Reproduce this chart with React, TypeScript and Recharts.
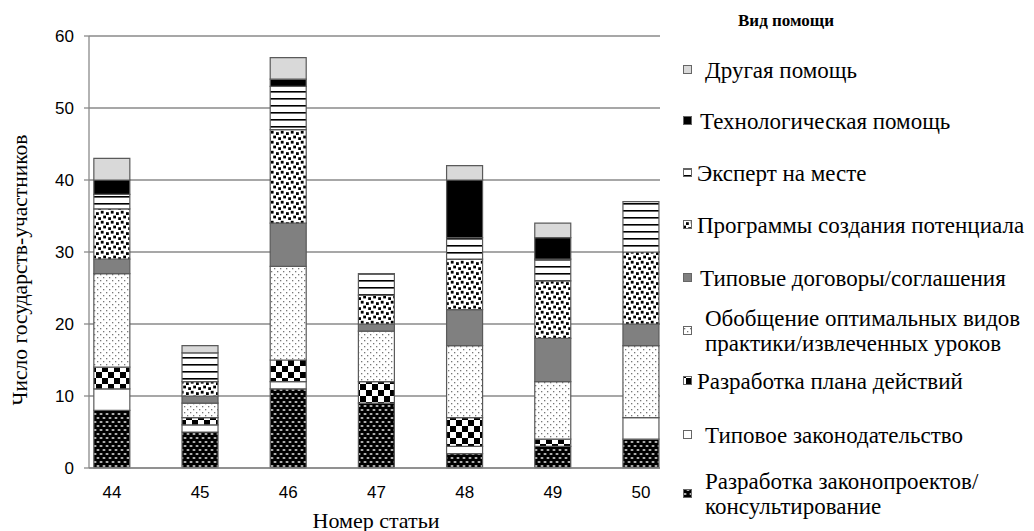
import React from 'react';
import { BarChart, Bar, XAxis, YAxis, CartesianGrid, Legend } from 'recharts';

const categories = [44, 45, 46, 47, 48, 49, 50];
const yTicks = [0, 10, 20, 30, 40, 50, 60];

// bottom to top
const seriesNames = [
  'Разработка законопроектов/\nконсультирование',
  'Типовое законодательство',
  'Разработка плана действий',
  'Обобщение оптимальных видов\nпрактики/извлеченных уроков',
  'Типовые договоры/соглашения',
  'Программы создания потенциала',
  'Эксперт на месте',
  'Технологическая помощь',
  'Другая помощь',
];
const draftLaws = [8, 5, 11, 9, 2, 3, 4];
const modelLegislation = [3, 1, 1, 0, 1, 0, 3];
const actionPlan = [3, 1, 3, 3, 4, 1, 0];
const goodPractices = [13, 2, 13, 7, 10, 8, 10];
const modelAgreements = [2, 1, 6, 1, 5, 6, 3];
const capacityPrograms = [7, 2, 13, 4, 7, 8, 10];
const onsiteExpert = [2, 4, 6, 3, 3, 3, 7];
const techAssistance = [2, 0, 1, 0, 8, 3, 0];
const otherAssistance = [3, 1, 3, 0, 2, 2, 0];

const seriesKeys = ['draft', 'modelLaw', 'plan', 'practice', 'agreements', 'programs', 'expert', 'tech', 'other'];
const seriesValues = [draftLaws, modelLegislation, actionPlan, goodPractices, modelAgreements, capacityPrograms, onsiteExpert, techAssistance, otherAssistance];
const seriesFills = ['url(#p-draft)', '#ffffff', 'url(#p-plan)', 'url(#p-practice)', '#808080', 'url(#p-programs)', 'url(#p-expert)', '#000000', '#d9d9d9'];

const data = categories.map((c, i) => {
  const row: any = { article: c };
  seriesKeys.forEach((k, j) => { row[k] = seriesValues[j][i]; });
  return row;
});

// legend rows, top to bottom (reverse of stacking order)
const legendY = [70, 121, 173, 225, 278, 331, 381, 435, 494];
const legendTextX = [25, 20, 17, 17, 20, 25, 17, 25, 25];
const serif = 'Liberation Serif, Times New Roman, serif';
const sans = 'Liberation Sans, Arial, sans-serif';

const Patterns = () => (
  <svg width={0} height={0} style={{ position: 'absolute' }}>
    <defs>
      <pattern id="p-draft" patternUnits="userSpaceOnUse" width={6} height={8}>
        <rect width={6} height={8} fill="#000" />
        <rect x={0.5} y={1.2} width={3} height={1.6} rx={0.8} fill="#e8e8e8" />
        <rect x={3.5} y={5.2} width={3} height={1.6} rx={0.8} fill="#e8e8e8" />
        <rect x={-2.5} y={5.2} width={3} height={1.6} rx={0.8} fill="#e8e8e8" />
      </pattern>
      <pattern id="p-plan" patternUnits="userSpaceOnUse" width={12} height={12}>
        <rect width={12} height={12} fill="#fff" />
        <rect x={0} y={0} width={6} height={6} fill="#000" />
        <rect x={6} y={6} width={6} height={6} fill="#000" />
      </pattern>
      <pattern id="p-practice" patternUnits="userSpaceOnUse" width={6} height={6}>
        <rect width={6} height={6} fill="#fff" />
        <rect x={1} y={1} width={1.3} height={1.3} fill="#777" />
        <rect x={4} y={4} width={1.3} height={1.3} fill="#777" />
      </pattern>
      <pattern id="p-programs" patternUnits="userSpaceOnUse" width={10} height={10}>
        <rect width={10} height={10} fill="#fff" />
        <rect x={0.8} y={0.8} width={2.8} height={2.8} fill="#000" />
        <rect x={6} y={2.2} width={2.8} height={2.8} fill="#000" />
        <rect x={3.2} y={5.6} width={2.8} height={2.8} fill="#000" />
        <rect x={8.2} y={7.2} width={2.8} height={2.8} fill="#000" />
        <rect x={-1.8} y={7.2} width={2.8} height={2.8} fill="#000" />
      </pattern>
      <pattern id="p-expert" patternUnits="userSpaceOnUse" width={8} height={7}>
        <rect width={8} height={7} fill="#fff" />
        <rect x={0} y={0} width={8} height={1.6} fill="#000" />
      </pattern>
    </defs>
  </svg>
);

const renderLegend = () => {
  const order = seriesKeys.map((_, j) => j).reverse();
  return (
    <svg width={354} height={531} style={{ display: 'block' }}>
      <text x={58} y={20} dominantBaseline="central" fontFamily={serif} fontWeight="bold" fontSize={17} fill="#000">
        Вид помощи
      </text>
      {order.map((j, i) => {
        const lines = seriesNames[j].split('\n');
        const cy = legendY[i];
        const lh = 25;
        const first = cy - ((lines.length - 1) * lh) / 2;
        return (
          <g key={seriesKeys[j]}>
            <rect x={3.5} y={cy - 4.5} width={8} height={8} fill={seriesFills[j]} stroke="#666" />
            {lines.map((l, k) => (
              <text key={k} x={legendTextX[i]} y={first + k * lh} dominantBaseline="central" fontFamily={serif} fontSize={23} fill="#000">
                {l}
              </text>
            ))}
          </g>
        );
      })}
    </svg>
  );
};

export default function App() {
  return (
    <div style={{ position: 'absolute', left: 0, top: 0, width: 1034, height: 531, background: '#fff' }}>
      <Patterns />
      <BarChart width={1034} height={531} data={data} margin={{ top: 36, right: 374, bottom: 33, left: 0 }}>
        <CartesianGrid vertical={false} stroke="#8a8a8a" strokeWidth={1.3} />
        <XAxis
          dataKey="article"
          type="number"
          domain={[43.74, 50.215]}
          ticks={categories}
          tickLine={false}
          tickSize={6}
          tickMargin={12}
          axisLine={{ stroke: '#8a8a8a', strokeWidth: 1.3 }}
          tick={{ fontSize: 17, fontFamily: sans, fill: '#000' }}
          height={30}
          label={() => (
            <text x={376} y={520} textAnchor="middle" dominantBaseline="central" fontFamily={serif} fontSize={22} fill="#000">
              Номер статьи
            </text>
          )}
        />
        <YAxis
          domain={[0, 60]}
          ticks={yTicks}
          width={89}
          tickSize={5}
          tickMargin={10}
          axisLine={{ stroke: '#8a8a8a', strokeWidth: 1.3 }}
          tickLine={{ stroke: '#8a8a8a', strokeWidth: 1.3 }}
          tick={{ fontSize: 17, fontFamily: sans, fill: '#000' }}
          label={() => (
            <text x={20} y={270} transform="rotate(-90 20 270)" textAnchor="middle" dominantBaseline="central" fontFamily={serif} fontSize={21.5} fill="#000">
              Число государств-участников
            </text>
          )}
        />
        <Legend
          layout="vertical"
          align="center"
          verticalAlign="middle"
          content={renderLegend}
          wrapperStyle={{ left: 680, top: 0, width: 354, height: 531 }}
        />
        {seriesKeys.map((k, j) => (
          <Bar
            key={k}
            dataKey={k}
            name={seriesNames[j]}
            stackId="a"
            fill={seriesFills[j]}
            stroke="#5a5a5a"
            strokeWidth={1.2}
            barSize={36}
            isAnimationActive={false}
          />
        ))}
      </BarChart>
    </div>
  );
}
